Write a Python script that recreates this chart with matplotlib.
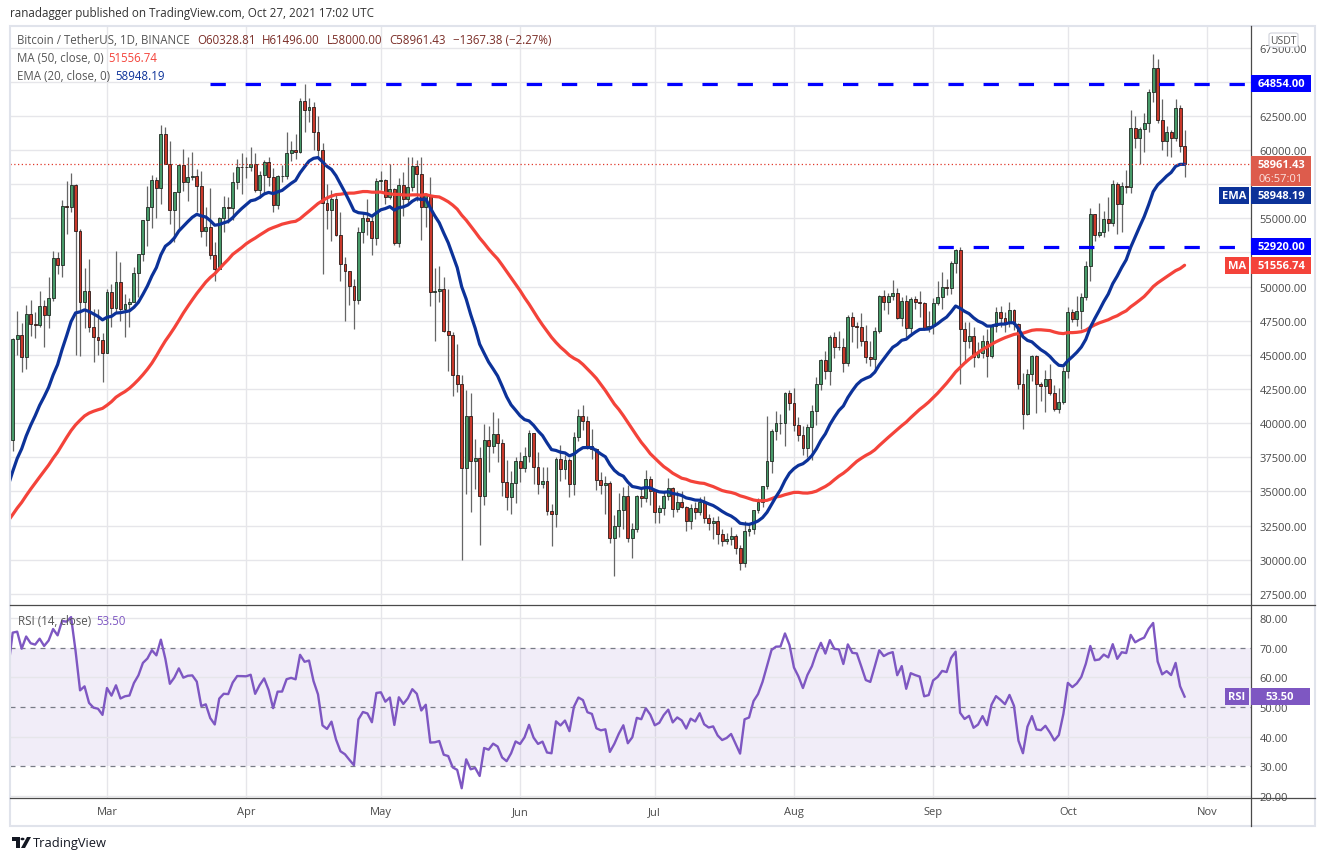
import matplotlib
matplotlib.use("Agg")
import matplotlib.pyplot as plt
import numpy as np
import pandas as pd
from matplotlib.patches import Rectangle, FancyBboxPatch, Polygon, Circle
from matplotlib.lines import Line2D

plt.rcParams['font.family'] = ['Open Sans', 'DejaVu Sans']

# ---------------- data ----------------
start_date = '2021-02-08'
first_open = 38795.0
# closes before the first visible candle (Dec 1 2020 - Feb 7 2021), used only to warm up the indicators
warmup_close = [
    18765, 19205, 19422, 18650, 19148, 19359, 19167, 18324, 18541, 18254, 18036, 18808, 19175, 19273, 19426,
    21335, 22797, 23107, 23821, 23455, 22719, 23810, 23232, 23729, 24712, 26493, 26281, 27079, 27385, 28875, 28923,
    29331, 32178, 33000, 31988, 33949, 36769, 39432, 40582, 40088, 38150, 35404, 34051, 37371, 39144, 36742,
    35994, 35828, 36631, 35891, 35468, 30850, 32945, 32078, 32259, 32254, 32467, 30366, 33364, 34252, 34262, 33092,
    33526, 35466, 37618, 36936, 38290, 39186, 38795]

close = [
    # Feb
    46196, 46481, 44839, 47969, 47287, 47153, 48577, 47911, 49133, 52119, 51552, 55906, 55841, 57412, 54087,
    48891, 49676, 47073, 46276, 46106, 45135,
    # Mar
    49587, 48440, 50349, 48374, 48751, 48882, 50971, 52375, 54884, 55851, 57773, 57221, 61188, 58968, 55605,
    56900, 58912, 57648, 58030, 58102, 57351, 54083, 54340, 52303, 51293, 55025, 55817, 55777, 57635, 58746, 58740,
    # Apr
    58720, 58950, 57051, 58202, 59129, 57991, 56000, 58088, 58102, 59774, 59965, 59834, 63577, 62960, 63159,
    61334, 60006, 56150, 55633, 56425, 53787, 51690, 51125, 50047, 49004, 54021, 55033, 54824, 53555, 57695,
    # May
    57800, 56578, 57169, 53200, 57436, 56393, 57314, 58862, 58240, 55816, 56670, 49631, 49670, 49841, 46762,
    46431, 43538, 42849, 36690, 40526, 37252, 37449, 34655, 38796, 38324, 39241, 38529, 35663, 34605, 35641, 37253,
    # Jun
    36693, 37568, 39246, 36829, 35513, 35796, 33552, 33380, 37388, 36675, 37331, 35546, 39020, 40516, 40144,
    38349, 38092, 35820, 35483, 35600, 31608, 32509, 33678, 34663, 31584, 32283, 34700, 34494, 35911, 35045,
    # Jul
    33504, 33786, 34669, 35286, 33690, 34220, 33862, 32875, 33815, 33502, 34259, 33086, 32729, 32820, 31880,
    31383, 31520, 31778, 30839, 29790, 32144, 32287, 33634, 34258, 35425, 37208, 39457, 39987, 40017, 42206, 41461,
    # Aug
    39845, 39147, 38207, 39723, 40862, 42836, 44614, 43792, 46285, 45593, 45553, 44429, 47793, 47096, 47048,
    45997, 44839, 44677, 46717, 49340, 48867, 49285, 49507, 47707, 48960, 46941, 49070, 48896, 48767, 46970, 47100,
    # Sep
    48810, 49246, 49999, 49915, 51756, 52663, 46863, 46048, 46395, 44850, 45173, 46025, 44940, 47111, 48121,
    47737, 47299, 48293, 47241, 42843, 40694, 43574, 44895, 42840, 42716, 43208, 42235, 41034, 41564, 43790,
    # Oct
    48165, 47657, 48233, 49245, 51494, 55339, 53797, 53963, 54963, 54691, 57484, 56041, 57401, 57321, 61593,
    60875, 61528, 62010, 64280, 66001, 62193, 60688, 61286, 60852, 63078, 60328.81, 58961.43]

high = [
    46203, 48200, 47310, 48678, 48985, 48150, 49707, 49010, 50690, 52618, 52530, 56368, 57700, 58352, 57533,
    54183, 51374, 52041, 48370, 48394, 46638,
    49790, 50200, 52640, 51773, 49448, 49200, 51450, 52402, 54900, 57387, 58150, 58058, 61844, 61683, 60633,
    56938, 58981, 60040, 59468, 59880, 58589, 58430, 55830, 57200, 53237, 55073, 56640, 56559, 58405, 59368, 59800,
    59490, 60200, 59791, 58493, 59250, 59475, 58655, 58153, 58894, 61300, 60670, 61200, 63774, 64854, 63800,
    63520, 62506, 60499, 57526, 57076, 56757, 55460, 52131, 51166, 50567, 54356, 55460, 56428, 55200, 57963,
    58458, 57911, 58981, 57200, 57937, 58360, 59500, 59464, 59300, 59500, 56862, 58000, 51367, 51483, 50700,
    49795, 46643, 45799, 43546, 42451, 42200, 38829, 38270, 39920, 39791, 40841, 40411, 38877, 37338, 36488, 37499,
    37894, 38225, 39476, 39289, 37917, 36790, 36810, 34068, 37534, 38400, 37680, 37448, 39380, 41064, 41330,
    40527, 39559, 38202, 36457, 36139, 35750, 33298, 34881, 35298, 35500, 32730, 34749, 35297, 36600, 36100,
    35036, 33977, 34945, 35967, 35293, 35059, 35059, 33929, 34100, 34262, 34590, 34679, 33340, 33114, 33185,
    32249, 31936, 32435, 31899, 31063, 32858, 32591, 33650, 34500, 35398, 40550, 39542, 40900, 40640, 42317, 42448,
    42599, 40480, 39780, 39966, 41350, 43392, 44700, 45310, 46454, 46700, 46743, 46218, 47886, 48144, 47372,
    48053, 47160, 46000, 47033, 49382, 49757, 49500, 50500, 49876, 49250, 49355, 49250, 49309, 49667, 48888, 48246,
    49156, 50392, 51054, 50558, 51900, 52781, 52920, 47381, 47400, 47040, 45969, 46460, 46876, 47250, 48500,
    48557, 48150, 48843, 48372, 47359, 43639, 44000, 44978, 45000, 42996, 43919, 44350, 42787, 42590, 44132,
    48495, 48358, 49300, 49500, 51886, 55750, 55338, 56100, 55500, 56561, 57839, 57680, 57684, 58550, 62933,
    62500, 61720, 62695, 64486, 67000, 66639, 63732, 61747, 61500, 63710, 63293, 61496]

low = [
    37988, 45000, 43727, 43995, 46400, 46202, 47014, 45570, 47003, 48947, 50901, 50710, 53863, 55477, 45000,
    44892, 47003, 46674, 44454, 45000, 43000,
    45115, 47047, 48100, 47500, 46300, 47070, 48882, 49274, 51845, 53005, 54269, 55013, 56078, 58966, 54568,
    53271, 54124, 57023, 56270, 57820, 55450, 53650, 53000, 52000, 50427, 51283, 53966, 54691, 54901, 57166, 56769,
    57935, 58428, 56956, 56478, 56817, 57333, 55473, 55700, 57654, 57902, 59167, 59369, 59800, 61301, 62020,
    60000, 59580, 50931, 54221, 53329, 53695, 50400, 47500, 48658, 46930, 48753, 53222, 53813, 52330, 53013,
    57052, 56035, 56435, 53046, 52900, 55200, 56000, 56975, 56235, 53400, 54370, 48600, 46000, 48868, 46650,
    43825, 42001, 42250, 30000, 34850, 33488, 35200, 31111, 34031, 36419, 37800, 37134, 34684, 33632, 33379, 34153,
    35666, 36419, 37170, 35555, 34800, 35258, 33300, 31000, 32396, 35782, 35936, 34600, 34757, 38730, 39506,
    38116, 37365, 35129, 34803, 33336, 31251, 28805, 31683, 32286, 31275, 30151, 32000, 33862, 34225, 34017,
    32711, 32699, 33316, 34357, 33125, 33532, 33777, 32077, 32261, 33004, 33310, 32658, 32202, 31550, 31133,
    31021, 31164, 31108, 30407, 29278, 29482, 31708, 31925, 33401, 33851, 35205, 36383, 38772, 39200, 38313, 41000,
    39422, 38690, 37642, 37508, 37332, 39853, 42446, 43261, 42779, 44800, 45341, 43770, 44217, 45971, 45500,
    45660, 44376, 44203, 43955, 46622, 48285, 48003, 49029, 47600, 47122, 46250, 46368, 48370, 47801, 46853, 46700,
    46513, 48627, 48349, 49370, 49450, 50969, 42843, 44412, 45514, 44132, 44771, 44742, 43370, 44750, 46682,
    47021, 46699, 47028, 46829, 42500, 39600, 40565, 43069, 40750, 41646, 40829, 42098, 40888, 40753, 41410,
    43283, 47400, 47120, 46891, 49000, 50382, 53357, 53617, 53661, 54080, 54415, 53879, 54000, 56818, 56850,
    60150, 58963, 59844, 61322, 63481, 62000, 60000, 59562, 59510, 60650, 59817, 58000]

resistance_level = 64854.0
resistance_from = '2021-03-24'
support_level = 52920.0
support_from = '2021-09-02'
ma_last = 51556.74
ema_last = 58948.19
rsi_last = 53.50
last_close = 58961.43
header_ohlc = ['O60328.81', 'H61496.00', 'L58000.00', 'C58961.43', '\u22121367.38 (\u22122.27%)']
countdown = '06:57:01'
month_labels = ['Mar', 'Apr', 'May', 'Jun', 'Jul', 'Aug', 'Sep', 'Oct', 'Nov']
price_ticks = np.arange(27500, 67501, 2500)
hidden_price_labels = [65000, 57500, 52500]   # covered by the price tags in the chart
rsi_ticks = [20, 30, 40, 50, 60, 70, 80]

# ---------------- indicators ----------------
full = np.array(warmup_close + close, dtype=float)
nw = len(warmup_close)

def sma(v, n):
    out = np.full(len(v), np.nan)
    for i in range(n - 1, len(v)):
        out[i] = v[i - n + 1:i + 1].mean()
    return out

def ema(v, n):
    out = np.full(len(v), np.nan)
    a = 2.0 / (n + 1)
    out[n - 1] = v[:n].mean()
    for i in range(n, len(v)):
        out[i] = a * v[i] + (1 - a) * out[i - 1]
    return out

def rsi(v, n=14):
    d = np.diff(v)
    g = np.clip(d, 0, None)
    l = np.clip(-d, 0, None)
    out = np.full(len(v), np.nan)
    ag = g[:n].mean(); al = l[:n].mean()
    out[n] = 100 - 100 / (1 + ag / al)
    for i in range(n, len(d)):
        ag = (ag * (n - 1) + g[i]) / n
        al = (al * (n - 1) + l[i]) / n
        out[i + 1] = 100 - 100 / (1 + ag / al) if al > 0 else 100
    return out

ma50 = sma(full, 50)
ema20 = ema(full, 20)
rsi14 = rsi(full, 14)

t0 = pd.Timestamp(start_date)
dates = pd.date_range(start_date, periods=len(close), freq='D')
x = np.array((dates - t0).days, dtype=float)
xi = np.arange(-1, len(close))            # indicators start one bar earlier (left edge)
sl = slice(nw - 1, len(full))

o = np.array([first_open] + close[:-1], dtype=float)
c = np.array(close, dtype=float)
h = np.array(high, dtype=float)
lo = np.array(low, dtype=float)

# ---------------- figure ----------------
W, H = 1325, 862
fig = plt.figure(figsize=(W / 100, H / 100), dpi=100, facecolor='white')

def fy(ypx):
    return 1 - ypx / H

X0, X1 = 10, 1251
ax = fig.add_axes([X0 / W, fy(605), (X1 - X0) / W, (605 - 27) / H])
ar = fig.add_axes([X0 / W, fy(799), (X1 - X0) / W, (799 - 606) / H], sharex=ax)

px0 = 12.7
ppd = 4.49
xl = ((X0 - px0) / ppd, (X1 - px0) / ppd)
ax.set_xlim(*xl)

# price scale: 60000 at y=151 px, 34.15 px per 2500
def pval(ypx):
    return 60000 + (151 - ypx) / 34.15 * 2500
ax.set_ylim(pval(605), pval(27))
ar.set_ylim(20 - 2 / 2.967, 80 + 13 / 2.967)

grid_c = '#e6e6ea'
month_x = [(d - t0).days for d in pd.date_range('2021-03-01', '2021-11-01', freq='MS')]
for a_ in (ax, ar):
    for s in a_.spines.values():
        s.set_visible(False)
    for mx in month_x:
        a_.axvline(mx, color=grid_c, lw=1.0, zorder=0)
for pt in price_ticks:
    ax.axhline(pt, color=grid_c, lw=1.0, zorder=0)

ax.yaxis.tick_right()
ax.set_yticks(price_ticks)
ax.set_yticklabels(['' if v in hidden_price_labels else f'{v:.2f}' for v in price_ticks])
ax.tick_params(axis='y', length=0, pad=6, labelsize=8, labelcolor='#4a4a4a')
ax.tick_params(axis='x', length=0, labelbottom=False)

ar.yaxis.tick_right()
ar.set_yticks(rsi_ticks)
ar.set_yticklabels([f'{v:.2f}' for v in rsi_ticks])
ar.tick_params(axis='y', length=0, pad=6, labelsize=8, labelcolor='#4a4a4a')
ar.set_xticks(month_x)
ar.set_xticklabels(month_labels)
ar.tick_params(axis='x', length=0, pad=6, labelsize=8, labelcolor='#4a4a4a')

# candles
up = c >= o
wick_c = '#666666'
ax.vlines(x, lo, h, color=wick_c, lw=0.9, zorder=2)
body_bottom = np.minimum(o, c)
body_h = np.maximum(np.abs(c - o), 45)
ax.bar(x[up], body_h[up], bottom=body_bottom[up], width=0.64, color='#479a69',
       edgecolor='#1f2a22', linewidth=0.6, zorder=3)
ax.bar(x[~up], body_h[~up], bottom=body_bottom[~up], width=0.64, color='#c9382a',
       edgecolor='#2a1a18', linewidth=0.6, zorder=3)

# moving averages
ax.plot(xi, ma50[sl], color='#f4433a', lw=2.3, zorder=4, solid_capstyle='round')
ax.plot(xi, ema20[sl], color='#0c3299', lw=2.3, zorder=5, solid_capstyle='round')

# horizontal levels
rx = (pd.Timestamp(resistance_from) - t0).days
sx = (pd.Timestamp(support_from) - t0).days
ax.plot([rx, xl[1]], [resistance_level] * 2, color='#0000ff', lw=2.3, dashes=(4.8, 6.2), zorder=6)
ax.plot([sx, xl[1]], [support_level] * 2, color='#0000ff', lw=2.3, dashes=(4.8, 6.2), zorder=6)
ax.axhline(last_close, color='#e0382b', lw=0.9, ls=(0, (1, 2)), zorder=6)

# RSI panel
ar.axhspan(30, 70, color='#7e57c2', alpha=0.1, lw=0, zorder=0)
for v in (20, 40, 60, 80):
    ar.axhline(v, color=grid_c, lw=1.0, zorder=0)
for v in (30, 50, 70):
    ar.axhline(v, color='#787b86', lw=0.9, dashes=(4, 4), zorder=1)
ar.plot(xi, rsi14[sl], color='#7e57c2', lw=1.7, zorder=3)

# ---------------- frame lines ----------------
def fline(x0, y0, x1, y1, color, lw):
    fig.add_artist(Line2D([x0 / W, x1 / W], [fy(y0), fy(y1)], color=color, lw=lw, zorder=20))

fig.add_artist(Rectangle((X0 / W, fy(827)), (1315 - X0) / W, (827 - 27) / H, fill=False,
                         edgecolor='#e0e3eb', lw=1.5, zorder=19))
fline(1251, 27, 1251, 827, '#4a4a4a', 0.9)
fline(X0, 605.5, 1315, 605.5, '#4a4a4a', 0.9)
fline(X0, 799, 1315, 799, '#4a4a4a', 0.9)

# ---------------- right-side tags ----------------
def ypx_of(a_, v):
    return H - a_.transData.transform((0, v))[1]

def tag_box(x0, x1, yc, hgt, fc, zorder=21):
    fig.add_artist(Rectangle((x0 / W, fy(yc + hgt / 2)), (x1 - x0) / W, hgt / H,
                             facecolor=fc, edgecolor='none', zorder=zorder))

def tag_text(xc, yc, s, color='white', fs=8, weight='bold'):
    fig.text(xc / W, fy(yc), s, color=color, fontsize=fs, ha='center', va='center',
             fontweight=weight, zorder=22)

# USDT tag
fig.add_artist(FancyBboxPatch((1269 / W, fy(48)), 29 / W, 14 / H,
                              boxstyle='round,pad=0,rounding_size=0.002', facecolor='white',
                              edgecolor='#cfd2da', lw=0.8, zorder=21))
tag_text(1283.5, 41, 'USDT', color='#555555', fs=7.5, weight='normal')

y_res = ypx_of(ax, resistance_level)
tag_box(1251, 1311, y_res, 17, '#0000ff')
tag_text(1281, y_res, f'{resistance_level:.2f}')

y_sup = ypx_of(ax, support_level)
tag_box(1251, 1311, y_sup, 17, '#0000ff')
tag_text(1281, y_sup, f'{support_level:.2f}')

y_cl = ypx_of(ax, last_close)
tag_box(1251, 1311, y_cl + 7, 30, '#dd5c4c')
tag_text(1281, y_cl, f'{last_close:.2f}')
tag_text(1281, y_cl + 14, countdown, color='#fbe3df', weight='normal')

y_ema = y_cl + 22 + 8.5 + 0.5
tag_box(1251, 1311, y_ema, 17, '#0c3299')
tag_text(1281, y_ema, f'{ema_last:.2f}')
tag_box(1219, 1249, y_ema, 17, '#0c3299')
tag_text(1234, y_ema, 'EMA')

y_ma = ypx_of(ax, ma_last)
tag_box(1251, 1311, y_ma, 17, '#f4433a')
tag_text(1281, y_ma, f'{ma_last:.2f}')
tag_box(1225, 1249, y_ma, 17, '#f4433a')
tag_text(1237, y_ma, 'MA')

y_rsi = ypx_of(ar, rsi_last)
tag_box(1251, 1310, y_rsi, 17, '#7e57c2')
tag_text(1280, y_rsi, f'{rsi_last:.2f}')
tag_box(1225, 1249, y_rsi, 17, '#7e57c2')
tag_text(1237, y_rsi, 'RSI')

# ---------------- legends / header ----------------
renderer = fig.canvas.get_renderer()

def seq_text(xpx, ypx, pieces, fs=8.3):
    xx = xpx
    for s, col, gap in pieces:
        t = fig.text(xx / W, fy(ypx), s, color=col, fontsize=fs, ha='left', va='center', zorder=22)
        bb = t.get_window_extent(renderer=renderer)
        xx += bb.width + gap

fig.text(10 / W, fy(14), 'ranadagger published on TradingView.com, Oct 27, 2021 17:02 UTC',
         color='#333333', fontsize=8.35, ha='left', va='center')

ohlc_c = '#7b2e28'
seq_text(17, 41, [('Bitcoin / TetherUS, 1D, BINANCE', '#555555', 7)] +
         [(s, ohlc_c, 7) for s in header_ohlc])
seq_text(17, 59, [('MA (50, close, 0)', '#555555', 5), (f'{ma_last:.2f}', '#f4433a', 0)])
seq_text(17, 76, [('EMA (20, close, 0)', '#555555', 5), (f'{ema_last:.2f}', '#0c3299', 0)])
seq_text(18, 622, [('RSI (14, close)', '#555555', 5), (f'{rsi_last:.2f}', '#7e57c2', 0)])

# TradingView logo + wordmark
logo_c = '#131722'
fig.add_artist(Rectangle((12 / W, fy(842)), 8 / W, 4 / H, facecolor=logo_c, edgecolor='none'))
fig.add_artist(Rectangle((16 / W, fy(849)), 4 / W, 11 / H, facecolor=logo_c, edgecolor='none'))
fig.add_artist(Circle((22.5 / W, fy(840)), 2.0 / W, facecolor=logo_c, edgecolor='none'))
fig.add_artist(Polygon([(27 / W, fy(838)), (31 / W, fy(838)), (25 / W, fy(849)), (21 / W, fy(849))],
                       closed=True, facecolor=logo_c, edgecolor='none'))
fig.text(33 / W, fy(843.5), 'TradingView', color='#131722', fontsize=9.3, ha='left', va='center')

fig.savefig('out.png', dpi=100, facecolor='white')
